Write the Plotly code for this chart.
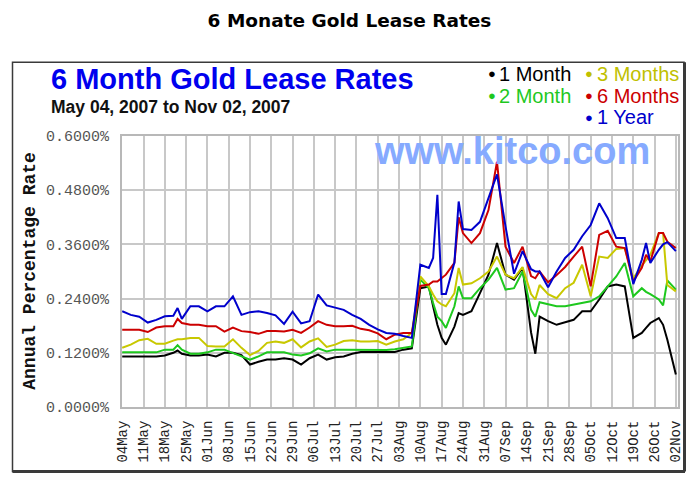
import plotly.graph_objects as go

# ---------------- data (business-day index from 04 May 2007) ----------------
day_index = [0, 2, 4, 6, 8, 10, 12, 13, 14, 16, 18, 20, 22, 24, 26, 28, 30, 32, 34, 36,
             38, 40, 42, 44, 46, 48, 50, 52, 54, 56, 58, 60, 62, 64, 66, 68, 70, 72, 73,
             74, 75, 76, 78, 79, 80, 82, 84, 86, 88, 90, 92, 94, 96, 97, 98, 100, 102,
             104, 106, 108, 110, 112, 114, 116, 118, 120, 122, 123, 124, 126, 127, 128, 130]

one_month = [0.112, 0.112, 0.112, 0.112, 0.112, 0.114, 0.120, 0.125, 0.118, 0.114, 0.114,
             0.116, 0.112, 0.120, 0.120, 0.115, 0.094, 0.100, 0.105, 0.105, 0.108, 0.105,
             0.094, 0.108, 0.116, 0.105, 0.110, 0.112, 0.118, 0.122, 0.122, 0.122, 0.122,
             0.122, 0.127, 0.130, 0.263, 0.267, 0.223, 0.182, 0.153, 0.138, 0.178, 0.208,
             0.204, 0.212, 0.252, 0.293, 0.363, 0.293, 0.282, 0.308, 0.165, 0.118, 0.200,
             0.190, 0.182, 0.187, 0.193, 0.212, 0.212, 0.238, 0.267, 0.271, 0.267, 0.153,
             0.164, 0.175, 0.186, 0.197, 0.182, 0.149, 0.072]

two_month = [0.121, 0.121, 0.121, 0.121, 0.121, 0.127, 0.127, 0.137, 0.127, 0.118, 0.118,
             0.121, 0.127, 0.127, 0.120, 0.112, 0.105, 0.112, 0.121, 0.121, 0.121, 0.116,
             0.114, 0.119, 0.130, 0.123, 0.127, 0.127, 0.127, 0.127, 0.126, 0.126, 0.126,
             0.128, 0.131, 0.134, 0.282, 0.263, 0.230, 0.200, 0.190, 0.175, 0.223, 0.267,
             0.241, 0.241, 0.263, 0.282, 0.308, 0.260, 0.263, 0.300, 0.215, 0.200, 0.232,
             0.227, 0.223, 0.223, 0.227, 0.230, 0.234, 0.245, 0.267, 0.289, 0.319, 0.245,
             0.263, 0.255, 0.250, 0.238, 0.225, 0.280, 0.260]

three_months = [0.131, 0.138, 0.148, 0.151, 0.140, 0.140, 0.147, 0.150, 0.150, 0.153, 0.153,
                0.135, 0.134, 0.134, 0.150, 0.131, 0.115, 0.124, 0.142, 0.145, 0.142, 0.150,
                0.132, 0.145, 0.152, 0.133, 0.138, 0.146, 0.148, 0.145, 0.145, 0.146, 0.138,
                0.145, 0.150, 0.164, 0.289, 0.267, 0.249, 0.234, 0.227, 0.223, 0.252, 0.308,
                0.271, 0.274, 0.285, 0.300, 0.333, 0.293, 0.285, 0.310, 0.250, 0.238, 0.270,
                0.250, 0.241, 0.263, 0.275, 0.315, 0.245, 0.333, 0.330, 0.350, 0.352, 0.285,
                0.313, 0.326, 0.337, 0.385, 0.385, 0.270, 0.256]

six_months = [0.171, 0.171, 0.171, 0.166, 0.176, 0.179, 0.179, 0.195, 0.186, 0.182, 0.182,
              0.179, 0.179, 0.167, 0.176, 0.168, 0.166, 0.162, 0.168, 0.168, 0.167, 0.171,
              0.164, 0.176, 0.190, 0.182, 0.179, 0.179, 0.180, 0.173, 0.170, 0.163, 0.150,
              0.160, 0.164, 0.164, 0.268, 0.271, 0.278, 0.278, 0.285, 0.293, 0.319, 0.420,
              0.385, 0.363, 0.385, 0.436, 0.543, 0.355, 0.319, 0.355, 0.290, 0.285, 0.300,
              0.276, 0.292, 0.310, 0.333, 0.355, 0.267, 0.381, 0.390, 0.355, 0.352, 0.278,
              0.308, 0.337, 0.322, 0.385, 0.385, 0.366, 0.352]

one_year = [0.212, 0.204, 0.200, 0.187, 0.193, 0.201, 0.202, 0.219, 0.195, 0.223, 0.223,
            0.212, 0.223, 0.223, 0.245, 0.204, 0.210, 0.212, 0.208, 0.203, 0.184, 0.211,
            0.185, 0.190, 0.249, 0.225, 0.220, 0.215, 0.204, 0.195, 0.182, 0.172, 0.164,
            0.162, 0.157, 0.153, 0.315, 0.308, 0.330, 0.470, 0.250, 0.250, 0.320, 0.455,
            0.394, 0.392, 0.410, 0.462, 0.515, 0.400, 0.295, 0.345, 0.305, 0.300, 0.300,
            0.265, 0.300, 0.330, 0.348, 0.378, 0.403, 0.451, 0.418, 0.374, 0.374, 0.272,
            0.326, 0.363, 0.319, 0.348, 0.360, 0.365, 0.345]

tick_index = [0, 5, 10, 15, 20, 25, 30, 35, 40, 45, 50, 55, 60, 65, 70, 75, 80, 85, 90,
              95, 100, 105, 110, 115, 120, 125, 130]
tick_labels = ["04May", "11May", "18May", "25May", "01Jun", "08Jun", "15Jun", "22Jun",
               "29Jun", "06Jul", "13Jul", "20Jul", "27Jul", "03Aug", "10Aug", "17Aug",
               "24Aug", "31Aug", "07Sep", "14Sep", "21Sep", "28Sep", "05Oct", "12Oct",
               "19Oct", "26Oct", "02Nov"]
y_ticks = [0.0, 0.12, 0.24, 0.36, 0.48, 0.60]
y_tick_labels = ["0.0000%", "0.1200%", "0.2400%", "0.3600%", "0.4800%", "0.6000%"]

series_names = ["1 Month", "2 Month", "3 Months", "6 Months", "1 Year"]
series_values = [one_month, two_month, three_months, six_months, one_year]
series_colors = ["#000000", "#1ec81e", "#c8c800", "#cc0000", "#0000cc"]

# ---------------- layout geometry (pixels) ----------------
W, H = 699, 489
L, R, T, B = 122, 21, 136, 81.5
PW, PH = W - L - R, H - T - B


def px(x):
    return (x - L) / PW


def py(y):
    return (H - B - y) / PH


fig = go.Figure()
for name, vals, col in zip(series_names, series_values, series_colors):
    fig.add_trace(go.Scatter(x=day_index, y=vals, mode="lines", name=name,
                             line=dict(color=col, width=2), hoverinfo="skip",
                             showlegend=False))

mono = "Liberation Mono, Courier New, monospace"
sans = "Liberation Sans, Arial, sans-serif"

fig.update_layout(
    width=W, height=H,
    margin=dict(l=L, r=R, t=T, b=B, pad=0),
    paper_bgcolor="white", plot_bgcolor="white",
    title=dict(text="<b>6 Monate Gold Lease Rates</b>", x=0.5, xanchor="center",
               y=1 - 21 / H, yanchor="middle",
               font=dict(family="DejaVu Sans, sans-serif", size=18.5, color="black")),
    xaxis=dict(range=[-0.05, 130.5], tickmode="array", tickvals=tick_index,
               ticktext=tick_labels, tickangle=-90, showgrid=True, gridcolor="#c8c8c8",
               gridwidth=2, zeroline=False, showline=True, linecolor="#b8b8b8",
               linewidth=2, mirror=True, ticks="", ticklabelstandoff=6,
               tickfont=dict(family=mono, size=14, color="#222222"), fixedrange=True),
    yaxis=dict(range=[0, 0.6], tickmode="array", tickvals=y_ticks,
               ticktext=y_tick_labels, showgrid=True, gridcolor="#c8c8c8", gridwidth=2,
               zeroline=False, showline=True, linecolor="#b8b8b8", linewidth=2,
               mirror=True, ticks="", ticklabelstandoff=8,
               tickfont=dict(family=mono, size=15, color="#555555"), fixedrange=True),
)

# outer framed box
fig.add_shape(type="rect", xref="paper", yref="paper",
              x0=px(12.5), x1=px(684), y0=py(472), y1=py(62),
              line=dict(color="#3a3a3a", width=1.5), layer="below")
fig.add_shape(type="line", xref="paper", yref="paper",
              x0=px(12.5), x1=px(685), y0=py(472), y1=py(472),
              line=dict(color="#3a3a3a", width=3))
fig.add_shape(type="line", xref="paper", yref="paper",
              x0=px(684.5), x1=px(684.5), y0=py(62), y1=py(472),
              line=dict(color="#3a3a3a", width=3))

ann = []
ann.append(dict(text="<b>6 Month Gold Lease Rates</b>", x=px(49), y=py(79),
                xanchor="left", yanchor="middle",
                font=dict(family=sans, size=29, color="#0000ee")))
ann.append(dict(text="<b>May 04, 2007 to Nov 02, 2007</b>", x=px(49), y=py(107),
                xanchor="left", yanchor="middle",
                font=dict(family=sans, size=17.5, color="#111111")))
ann.append(dict(text="<b>www.kitco.com</b>", x=px(512), y=py(151),
                xanchor="center", yanchor="middle",
                font=dict(family=sans, size=38, color="#86aaff")))
ann.append(dict(text="<b>Annual Percentage Rate</b>", x=px(30), y=py(271),
                xanchor="center", yanchor="middle", textangle=-90,
                font=dict(family=mono, size=18, color="#111111")))

legend_items = [
    ("1 Month", "#000000", 491.5, 73.5),
    ("3 Months", "#c0c000", 589, 73.5),
    ("2 Month", "#1ec81e", 491.5, 95.5),
    ("6 Months", "#cc0000", 589, 95.5),
    ("1 Year", "#0000cc", 589, 117),
]
for label, col, mx, my in legend_items:
    ann.append(dict(text="●", x=px(mx), y=py(my), xanchor="center", yanchor="middle",
                    font=dict(family=sans, size=13, color=col)))
    ann.append(dict(text=label, x=px(mx + 5.5), y=py(my), xanchor="left",
                    yanchor="middle", font=dict(family=sans, size=20, color=col)))

for a in ann:
    a.update(xref="paper", yref="paper", showarrow=False)
fig.update_layout(annotations=ann)

fig.write_html("out.html", config={"displayModeBar": False},
               post_script="document.body.style.margin='0px';"
                           "document.body.style.overflow='hidden';")
